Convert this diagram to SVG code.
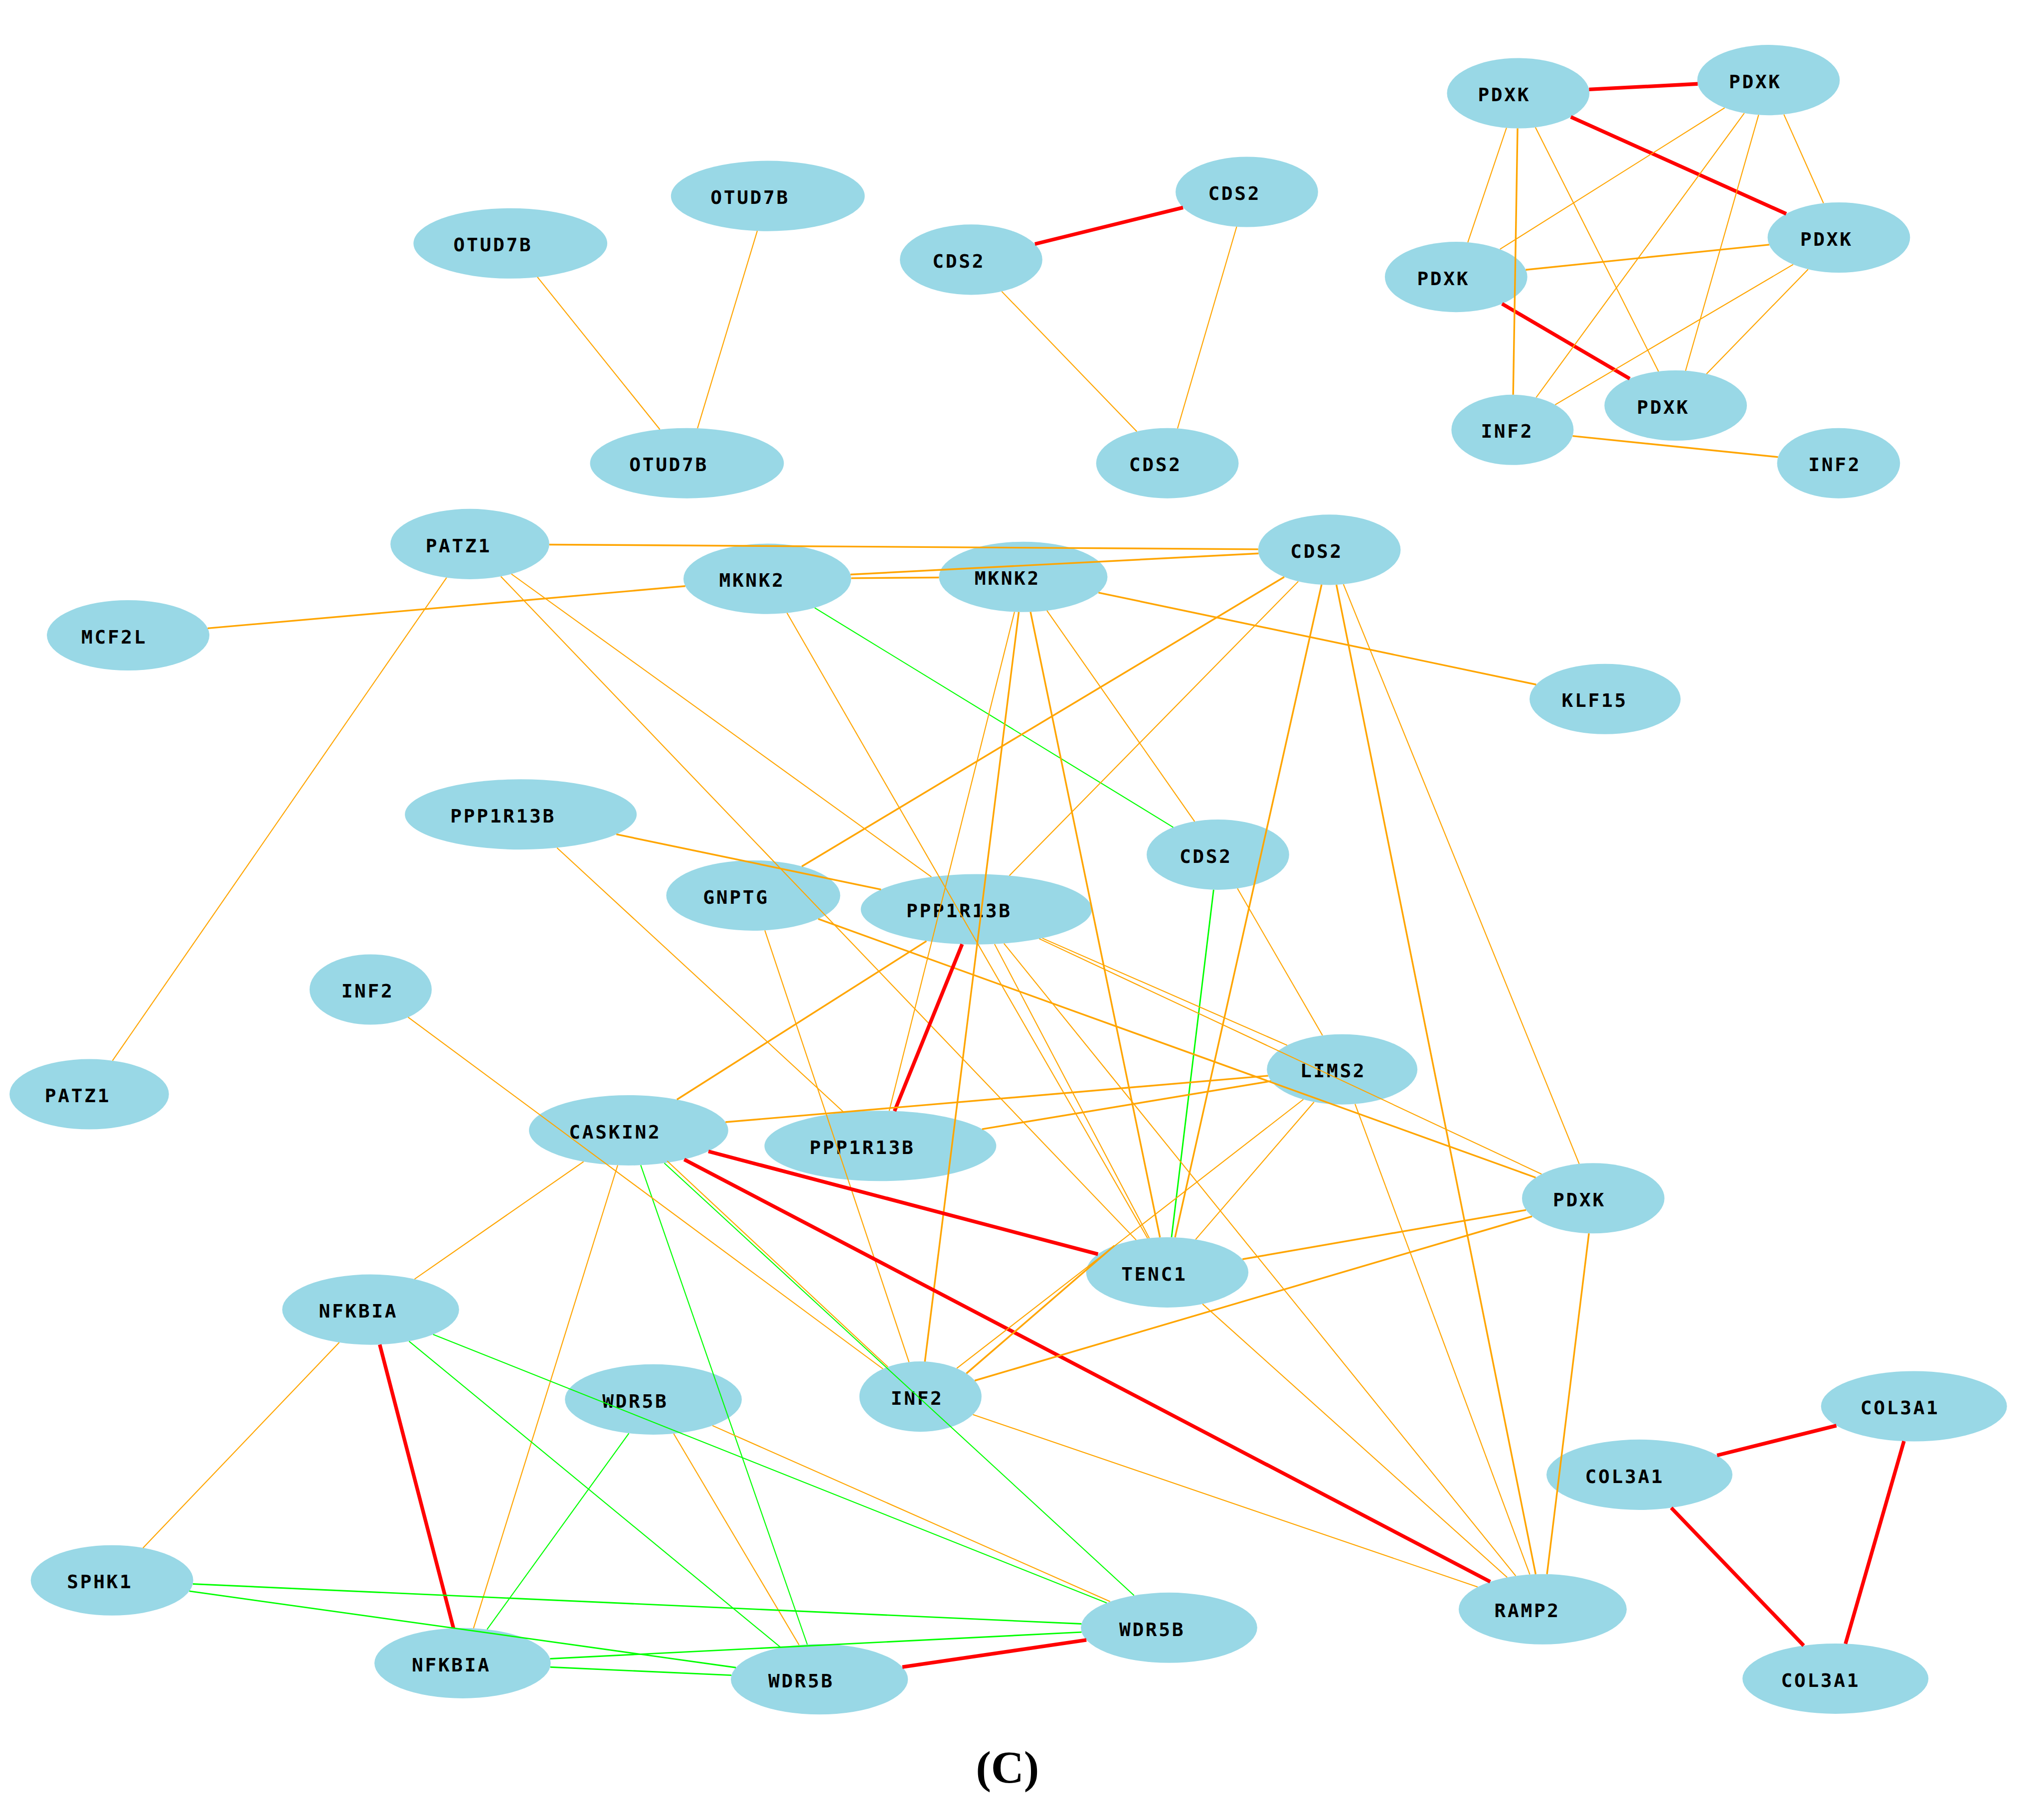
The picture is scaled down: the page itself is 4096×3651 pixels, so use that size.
<svg xmlns="http://www.w3.org/2000/svg" width="4096" height="3651" viewBox="0 0 4096 3651">
<style>
.n ellipse{fill:#99D8E6;}
.n text{font-family:"DejaVu Sans Mono","Liberation Mono",monospace;font-size:14.5px;font-weight:bold;letter-spacing:1.4px;fill:#000;}
#connectors line{fill:none;stroke-linecap:butt;}
.o{stroke:#FFA500;stroke-width:0.8;}
.ot{stroke:#FFA500;stroke-width:1.3;}
.g{stroke:#00FF00;stroke-width:0.8;}
.gt{stroke:#00FF00;stroke-width:1.1;}
.r{stroke:#FF0000;stroke-width:2.8;}
.cap{font-family:"Liberation Serif","Times New Roman",serif;font-weight:bold;font-size:35px;fill:#000;}
</style>
<rect width="4096" height="3651" fill="#ffffff"/>
<g transform="scale(2.612245)">
<g id="nodes">
<g id="otud7b-1" class="n"><ellipse cx="391.9" cy="186.9" rx="74.4" ry="27"/><text x="348.2" y="193.1">OTUD7B</text></g>
<g id="otud7b-2" class="n"><ellipse cx="589.6" cy="150.5" rx="74.4" ry="27"/><text x="545.6" y="156.7">OTUD7B</text></g>
<g id="otud7b-3" class="n"><ellipse cx="527.5" cy="355.7" rx="74.4" ry="27"/><text x="483.2" y="361.9">OTUD7B</text></g>
<g id="cds2-1" class="n"><ellipse cx="745.7" cy="199.4" rx="54.7" ry="27"/><text x="716.0" y="205.6">CDS2</text></g>
<g id="cds2-2" class="n"><ellipse cx="957.4" cy="147.4" rx="54.7" ry="27"/><text x="927.7" y="153.6">CDS2</text></g>
<g id="cds2-3" class="n"><ellipse cx="896.4" cy="355.7" rx="54.7" ry="27"/><text x="867.0" y="361.9">CDS2</text></g>
<g id="pdxk-1" class="n"><ellipse cx="1165.8" cy="71.6" rx="54.7" ry="27"/><text x="1134.8" y="77.8">PDXK</text></g>
<g id="pdxk-2" class="n"><ellipse cx="1358.0" cy="61.5" rx="54.7" ry="27"/><text x="1327.6" y="67.7">PDXK</text></g>
<g id="pdxk-3" class="n"><ellipse cx="1412.0" cy="182.4" rx="54.7" ry="27"/><text x="1382.3" y="188.6">PDXK</text></g>
<g id="pdxk-4" class="n"><ellipse cx="1118.1" cy="212.7" rx="54.7" ry="27"/><text x="1088.1" y="218.9">PDXK</text></g>
<g id="pdxk-5" class="n"><ellipse cx="1286.7" cy="311.4" rx="54.7" ry="27"/><text x="1256.9" y="317.6">PDXK</text></g>
<g id="inf2-1" class="n"><ellipse cx="1161.4" cy="330.1" rx="46.9" ry="27"/><text x="1137.1" y="336.3">INF2</text></g>
<g id="inf2-2" class="n"><ellipse cx="1411.8" cy="355.7" rx="47.2" ry="27"/><text x="1388.6" y="361.9">INF2</text></g>
<g id="patz1-1" class="n"><ellipse cx="360.8" cy="417.8" rx="61" ry="27"/><text x="326.8" y="424.0">PATZ1</text></g>
<g id="mknk2-1" class="n"><ellipse cx="589.2" cy="444.5" rx="64.4" ry="27"/><text x="552.2" y="450.7">MKNK2</text></g>
<g id="mknk2-2" class="n"><ellipse cx="785.7" cy="443.0" rx="64.7" ry="27"/><text x="748.3" y="449.2">MKNK2</text></g>
<g id="cds2-4" class="n"><ellipse cx="1020.8" cy="422.2" rx="54.7" ry="27"/><text x="990.8" y="428.4">CDS2</text></g>
<g id="mcf2l" class="n"><ellipse cx="98.4" cy="487.9" rx="62.4" ry="27"/><text x="62.4" y="494.1">MCF2L</text></g>
<g id="klf15" class="n"><ellipse cx="1232.5" cy="536.8" rx="58" ry="27"/><text x="1199.2" y="543.0">KLF15</text></g>
<g id="ppp1r13b-1" class="n"><ellipse cx="399.9" cy="625.4" rx="89" ry="27"/><text x="345.8" y="631.6">PPP1R13B</text></g>
<g id="cds2-5" class="n"><ellipse cx="935.2" cy="656.3" rx="54.7" ry="27"/><text x="905.7" y="662.5">CDS2</text></g>
<g id="gnptg" class="n"><ellipse cx="578.4" cy="687.7" rx="66.8" ry="27"/><text x="539.9" y="693.9">GNPTG</text></g>
<g id="ppp1r13b-2" class="n"><ellipse cx="749.7" cy="698.3" rx="88.7" ry="27"/><text x="696.0" y="704.5">PPP1R13B</text></g>
<g id="inf2-3" class="n"><ellipse cx="284.6" cy="759.9" rx="46.9" ry="27"/><text x="262.1" y="766.1">INF2</text></g>
<g id="patz1-2" class="n"><ellipse cx="68.5" cy="840.3" rx="61.2" ry="27"/><text x="34.4" y="846.5">PATZ1</text></g>
<g id="lims2" class="n"><ellipse cx="1030.6" cy="821.2" rx="57.8" ry="27"/><text x="998.4" y="827.4">LIMS2</text></g>
<g id="caskin2" class="n"><ellipse cx="482.7" cy="868.0" rx="76.5" ry="27"/><text x="436.9" y="874.2">CASKIN2</text></g>
<g id="ppp1r13b-3" class="n"><ellipse cx="676.0" cy="880.0" rx="89" ry="27"/><text x="621.6" y="886.2">PPP1R13B</text></g>
<g id="pdxk-6" class="n"><ellipse cx="1223.4" cy="920.2" rx="54.7" ry="27"/><text x="1192.5" y="926.4">PDXK</text></g>
<g id="tenc1" class="n"><ellipse cx="896.3" cy="977.1" rx="62.3" ry="27"/><text x="861.0" y="983.3">TENC1</text></g>
<g id="nfkbia-1" class="n"><ellipse cx="284.6" cy="1005.7" rx="67.9" ry="27"/><text x="244.8" y="1011.9">NFKBIA</text></g>
<g id="wdr5b-1" class="n"><ellipse cx="501.7" cy="1074.7" rx="67.9" ry="27"/><text x="462.5" y="1080.9">WDR5B</text></g>
<g id="inf2-4" class="n"><ellipse cx="706.8" cy="1072.5" rx="46.9" ry="27"/><text x="684.0" y="1078.7">INF2</text></g>
<g id="col3a1-1" class="n"><ellipse cx="1469.7" cy="1079.9" rx="71.4" ry="27"/><text x="1428.6" y="1086.1">COL3A1</text></g>
<g id="col3a1-2" class="n"><ellipse cx="1258.9" cy="1132.5" rx="71.4" ry="27"/><text x="1217.2" y="1138.7">COL3A1</text></g>
<g id="sphk1" class="n"><ellipse cx="86.0" cy="1213.6" rx="62.4" ry="27"/><text x="51.4" y="1219.8">SPHK1</text></g>
<g id="wdr5b-2" class="n"><ellipse cx="897.7" cy="1250.0" rx="67.7" ry="27"/><text x="859.4" y="1256.2">WDR5B</text></g>
<g id="ramp2" class="n"><ellipse cx="1184.6" cy="1235.8" rx="64.5" ry="27"/><text x="1147.5" y="1242.0">RAMP2</text></g>
<g id="nfkbia-2" class="n"><ellipse cx="355.2" cy="1277.2" rx="67.7" ry="27"/><text x="316.2" y="1283.4">NFKBIA</text></g>
<g id="wdr5b-3" class="n"><ellipse cx="629.2" cy="1289.6" rx="68" ry="27"/><text x="589.9" y="1295.8">WDR5B</text></g>
<g id="col3a1-3" class="n"><ellipse cx="1409.4" cy="1289.1" rx="71.4" ry="27"/><text x="1367.6" y="1295.3">COL3A1</text></g>
</g>
<g id="connectors">
<line class="o" x1="412.7" y1="212.8" x2="506.7" y2="329.8"/>
<line class="o" x1="581.5" y1="177.3" x2="535.6" y2="328.9"/>
<line class="r" x1="794.7" y1="187.4" x2="908.4" y2="159.4"/>
<line class="o" x1="769.2" y1="223.8" x2="872.9" y2="331.3"/>
<line class="o" x1="949.6" y1="174.1" x2="904.2" y2="329.0"/>
<line class="r" x1="1220.2" y1="68.7" x2="1303.6" y2="64.4"/>
<line class="r" x1="1206.2" y1="89.8" x2="1371.6" y2="164.2"/>
<line class="r" x1="1153.4" y1="233.3" x2="1251.4" y2="290.8"/>
<line class="o" x1="1156.8" y1="98.2" x2="1127.1" y2="186.1"/>
<line class="ot" x1="1165.3" y1="98.6" x2="1161.9" y2="303.1"/>
<line class="o" x1="1179.0" y1="97.8" x2="1273.5" y2="285.2"/>
<line class="o" x1="1324.3" y1="82.8" x2="1151.8" y2="191.4"/>
<line class="o" x1="1339.4" y1="86.9" x2="1179.6" y2="305.2"/>
<line class="o" x1="1350.4" y1="88.2" x2="1294.3" y2="284.7"/>
<line class="o" x1="1369.8" y1="87.9" x2="1400.2" y2="156.0"/>
<line class="ot" x1="1358.5" y1="187.9" x2="1171.6" y2="207.2"/>
<line class="o" x1="1376.9" y1="203.1" x2="1194.2" y2="310.8"/>
<line class="o" x1="1388.4" y1="206.8" x2="1310.4" y2="287.1"/>
<line class="ot" x1="1207.6" y1="334.8" x2="1365.3" y2="351.0"/>
<line class="ot" x1="421.8" y1="418.2" x2="966.1" y2="421.8"/>
<line class="o" x1="342.9" y1="443.6" x2="86.4" y2="814.5"/>
<line class="o" x1="392.7" y1="440.8" x2="715.2" y2="673.4"/>
<line class="o" x1="384.6" y1="442.7" x2="872.4" y2="952.2"/>
<line class="ot" x1="159.5" y1="482.5" x2="526.2" y2="450.1"/>
<line class="ot" x1="653.6" y1="444.0" x2="721.0" y2="443.5"/>
<line class="ot" x1="653.1" y1="441.2" x2="966.4" y2="425.0"/>
<line class="g" x1="625.6" y1="466.8" x2="900.9" y2="635.3"/>
<line class="o" x1="604.3" y1="470.7" x2="881.2" y2="950.9"/>
<line class="ot" x1="843.5" y1="455.1" x2="1179.6" y2="525.7"/>
<line class="o" x1="803.9" y1="468.9" x2="917.3" y2="630.8"/>
<line class="ot" x1="791.3" y1="469.9" x2="890.7" y2="950.2"/>
<line class="ot" x1="782.3" y1="470.0" x2="710.2" y2="1045.6"/>
<line class="o" x1="779.0" y1="469.9" x2="682.8" y2="853.1"/>
<line class="ot" x1="986.1" y1="443.1" x2="615.7" y2="665.3"/>
<line class="o" x1="996.9" y1="446.5" x2="775.1" y2="672.4"/>
<line class="ot" x1="1014.8" y1="449.0" x2="902.3" y2="950.2"/>
<line class="o" x1="1031.6" y1="448.7" x2="1212.6" y2="893.7"/>
<line class="ot" x1="1026.2" y1="449.1" x2="1179.2" y2="1208.9"/>
<line class="ot" x1="473.3" y1="640.7" x2="676.5" y2="683.1"/>
<line class="o" x1="427.7" y1="651.1" x2="648.2" y2="854.4"/>
<line class="gt" x1="931.9" y1="683.3" x2="899.6" y2="950.1"/>
<line class="o" x1="950.2" y1="682.3" x2="1015.5" y2="795.1"/>
<line class="o" x1="587.3" y1="714.5" x2="698.0" y2="1046.0"/>
<line class="ot" x1="628.3" y1="705.7" x2="1179.2" y2="904.3"/>
<line class="o" x1="800.4" y1="720.5" x2="988.4" y2="802.7"/>
<line class="o" x1="798.0" y1="720.9" x2="1183.7" y2="901.6"/>
<line class="o" x1="763.7" y1="725.0" x2="882.5" y2="950.8"/>
<line class="o" x1="770.9" y1="724.5" x2="1163.9" y2="1210.2"/>
<line class="ot" x1="711.4" y1="722.7" x2="519.8" y2="844.4"/>
<line class="r" x1="738.8" y1="725.1" x2="686.9" y2="853.2"/>
<line class="ot" x1="754.1" y1="867.1" x2="976.1" y2="830.2"/>
<line class="ot" x1="557.1" y1="861.7" x2="973.7" y2="826.1"/>
<line class="r" x1="544.0" y1="884.2" x2="843.1" y2="963.1"/>
<line class="r" x1="525.4" y1="890.4" x2="1144.3" y2="1214.7"/>
<line class="o" x1="448.1" y1="892.1" x2="318.3" y2="982.3"/>
<line class="o" x1="474.3" y1="894.8" x2="363.6" y2="1250.4"/>
<line class="g" x1="492.0" y1="894.8" x2="619.9" y2="1262.9"/>
<line class="g" x1="510.1" y1="893.2" x2="870.8" y2="1225.2"/>
<line class="o" x1="512.3" y1="891.6" x2="681.8" y2="1049.7"/>
<line class="o" x1="313.4" y1="781.2" x2="678.0" y2="1051.2"/>
<line class="ot" x1="742.1" y1="1054.7" x2="855.7" y2="956.6"/>
<line class="o" x1="734.7" y1="1050.8" x2="1000.8" y2="844.3"/>
<line class="ot" x1="748.5" y1="1060.2" x2="1176.4" y2="934.1"/>
<line class="o" x1="747.1" y1="1086.3" x2="1134.6" y2="1218.7"/>
<line class="ot" x1="954.1" y1="967.0" x2="1171.8" y2="929.2"/>
<line class="o" x1="923.4" y1="1001.4" x2="1157.3" y2="1211.3"/>
<line class="o" x1="1009.0" y1="846.3" x2="918.1" y2="951.8"/>
<line class="o" x1="1040.5" y1="847.8" x2="1174.7" y2="1209.1"/>
<line class="ot" x1="1220.1" y1="947.2" x2="1187.9" y2="1208.8"/>
<line class="o" x1="260.5" y1="1030.9" x2="109.8" y2="1188.7"/>
<line class="r" x1="291.6" y1="1032.6" x2="348.2" y2="1250.3"/>
<line class="g" x1="314.1" y1="1030.0" x2="599.7" y2="1265.3"/>
<line class="g" x1="332.6" y1="1024.8" x2="849.8" y2="1230.9"/>
<line class="g" x1="482.9" y1="1100.7" x2="374.0" y2="1251.3"/>
<line class="o" x1="547.1" y1="1094.8" x2="852.4" y2="1229.9"/>
<line class="o" x1="517.3" y1="1101.0" x2="613.6" y2="1263.3"/>
<line class="gt" x1="148.1" y1="1216.4" x2="830.4" y2="1247.0"/>
<line class="gt" x1="145.4" y1="1221.9" x2="565.1" y2="1280.6"/>
<line class="gt" x1="422.4" y1="1273.8" x2="830.5" y2="1253.4"/>
<line class="gt" x1="422.5" y1="1280.2" x2="561.6" y2="1286.5"/>
<line class="r" x1="692.9" y1="1280.2" x2="834.2" y2="1259.4"/>
<line class="r" x1="1410.1" y1="1094.8" x2="1318.5" y2="1117.6"/>
<line class="r" x1="1462.0" y1="1106.7" x2="1417.1" y2="1262.3"/>
<line class="r" x1="1283.3" y1="1157.9" x2="1385.0" y2="1263.7"/>
</g>
<text class="cap" x="773.6" y="1369" text-anchor="middle">(C)</text>
</g>
</svg>
